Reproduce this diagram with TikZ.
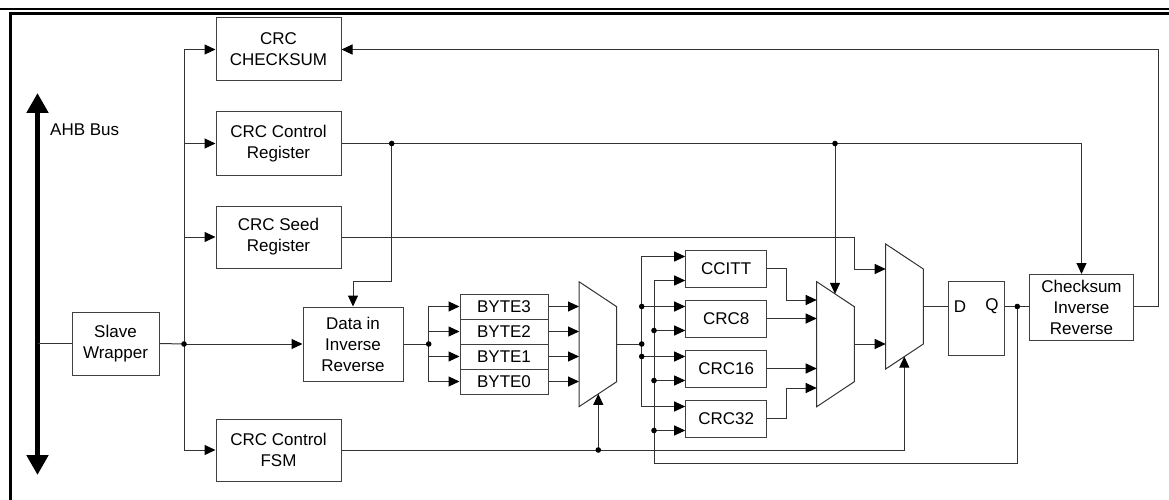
\documentclass[tikz,border=0pt]{standalone}
\usepackage{fontspec}
\setmainfont{Liberation Sans}
\usetikzlibrary{arrows.meta,calc}
\begin{document}
\begin{tikzpicture}[x=1pt,y=-1pt,
  every node/.style={font=\fontsize{17}{21}\selectfont},
  blk/.style={draw=black!75, line width=1pt, inner sep=0pt, align=center, minimum width=125pt, minimum height=63pt},
  wire/.style={draw=black!80, line width=1pt},
  arr/.style={wire, -{Triangle[length=11pt,width=10pt,color=black,fill=black]}},
  dotc/.style={fill=black},
]
\useasboundingbox (0,0) rectangle (1169,500);
\fill[white] (0,0) rectangle (1169,500);
% frame
\draw[line width=2pt] (0,9) -- (1169,9);
\draw[line width=3pt, line join=miter] (10.5,500) -- (10.5,13.5) -- (1169,13.5);

% bus
\coordinate (busT) at (37.5,93);
\coordinate (busB) at (37.5,475);
\coordinate (busJ) at (37.5,343.5);
\draw[line width=5pt, {Triangle[length=20pt,width=21pt]}-{Triangle[length=20pt,width=21pt]}] (busT) -- (busB);
\node[anchor=west, inner sep=0pt] (ahb) at (50,130) {AHB Bus};

% blocks
\node[blk] (chk) at (278.5,49.5) {CRC\\CHECKSUM};
\node[blk] (ctl) at (278.5,143.5) {CRC Control\\Register};
\node[blk, minimum height=62pt] (seed) at (278.5,237) {CRC Seed\\Register};
\node[blk, minimum height=62pt] (fsm) at (278.5,450) {CRC Control\\FSM};
\node[blk, minimum width=87pt] (slave) at (115.5,343.5) {Slave\\Wrapper};
\node[blk, minimum width=100pt, minimum height=74pt] (din) at (353,344) {Data in\\Inverse\\Reverse};
\node[blk, minimum width=88pt, minimum height=25pt] (b3) at (504,306.5) {BYTE3};
\node[blk, minimum width=88pt, minimum height=25pt] (b2) at (504,331.5) {BYTE2};
\node[blk, minimum width=88pt, minimum height=25pt] (b1) at (504,356.5) {BYTE1};
\node[blk, minimum width=88pt, minimum height=25pt] (b0) at (504,381.5) {BYTE0};
\node[blk, minimum width=81pt, minimum height=37pt] (ccitt) at (726.2,268.5) {CCITT};
\node[blk, minimum width=81pt, minimum height=37pt] (crc8) at (726.2,318.5) {CRC8};
\node[blk, minimum width=81pt, minimum height=37pt] (crc16) at (726.2,368.5) {CRC16};
\node[blk, minimum width=81pt, minimum height=37pt] (crc32) at (726.2,418.5) {CRC32};
\node[blk, minimum width=56pt, minimum height=74pt] (ff) at (976.3,318.8) {};
\node (D) at (960,306.5) {D};
\node (Q) at (992,306.5) {Q};
\node[blk, minimum width=104pt, minimum height=66pt] (cinv) at (1081.5,307.5) {Checksum\\Inverse\\Reverse};

% muxes
\draw[wire, line join=miter] (579,281.7) -- (616.7,306.7) -- (616.7,381.7) -- (579,406.7) -- cycle;
\draw[wire, line join=miter] (816.7,281.7) -- (854.3,306.7) -- (854.3,381.7) -- (816.7,406.7) -- cycle;
\draw[wire, line join=miter] (885.7,244) -- (923.3,269) -- (923.3,344) -- (885.7,369) -- cycle;
\coordinate (m1L) at (579,344);
\coordinate (m1o) at (616.7,344);
\coordinate (m1s) at (598.3,393.9);
\coordinate (m2o) at (854.3,344);
\coordinate (m2s) at (835,293.9);
\coordinate (m2a) at (816.7,300);
\coordinate (m2b) at (816.7,318.5);
\coordinate (m2c) at (816.7,368.5);
\coordinate (m2d) at (816.7,388);
\coordinate (m3a) at (885.7,269);
\coordinate (m3b) at (885.7,344);
\coordinate (m3o) at (923.3,306.5);
\coordinate (m3s) at (904.3,356.6);

% junction coordinates
\coordinate (j1) at (184,344);
\coordinate (j2) at (428.7,344);
\coordinate (j3) at (641.7,344);
\coordinate (d1) at (391.7,143.5);
\coordinate (d2) at (835,143.5);
\coordinate (k1) at (391.7,281.7);
\coordinate (qd) at (1017.3,306.5);
\coordinate (fb) at (654,463.3);
\coordinate (d3) at (m1s |- fsm.east);

\coordinate (c1a) at ($(ccitt.west)+(0,-12)$);
\coordinate (c1b) at ($(ccitt.west)+(0,12)$);
\coordinate (c2a) at ($(crc8.west)+(0,-12)$);
\coordinate (c2b) at ($(crc8.west)+(0,12)$);
\coordinate (c3a) at ($(crc16.west)+(0,-12)$);
\coordinate (c3b) at ($(crc16.west)+(0,12)$);
\coordinate (c4a) at ($(crc32.west)+(0,-12)$);
\coordinate (c4b) at ($(crc32.west)+(0,12)$);

% connectors left side
\draw[wire] (busJ) -- (slave.west);
\draw[wire] (slave.east) -- (j1);
\draw[arr] (j1) -- (din.west);
\draw[arr] (j1) |- (chk.west);
\draw[arr] (j1) |- (ctl.west);
\draw[arr] (j1) |- (seed.west);
\draw[arr] (j1) |- (fsm.west);

% control register line
\draw[arr] (ctl.east) -| (cinv.north);
\draw[arr] (d1) -- (k1) -- (k1 -| din.north) -- (din.north);
\draw[arr] (d2) -- (m2s);

% bytes
\draw[wire] (din.east) -- (j2);
\draw[arr] (j2) |- (b3.west);
\draw[arr] (j2) |- (b2.west);
\draw[arr] (j2) |- (b1.west);
\draw[arr] (j2) |- (b0.west);
\draw[arr] (b3.east) -- (b3.east -| m1L);
\draw[arr] (b2.east) -- (b2.east -| m1L);
\draw[arr] (b1.east) -- (b1.east -| m1L);
\draw[arr] (b0.east) -- (b0.east -| m1L);

% mux1 to CRC blocks
\draw[wire] (m1o) -- (j3);
\draw[arr] (j3) |- (c1a);
\draw[arr] (j3) |- (c4a);
\draw[arr] (c2a -| j3) -- (c2a);
\draw[arr] (c3a -| j3) -- (c3a);

% feedback
\draw[arr] (qd) |- (fb) |- (c1b);
\draw[arr] (c2b -| fb) -- (c2b);
\draw[arr] (c3b -| fb) -- (c3b);
\draw[arr] (c4b -| fb) -- (c4b);

% CRC outputs to mux2
\draw[arr] (ccitt.east) -- ++(19.5,0) |- (m2a);
\draw[arr] (crc8.east) -- (m2b);
\draw[arr] (crc16.east) -- (m2c);
\draw[arr] (crc32.east) -- ++(19.5,0) |- (m2d);

% mux3 inputs
\draw[arr] (m2o) -- (m3b);
\draw[arr] (seed.east) -- (seed.east -| m2o) |- (m3a);

% FSM selects
\draw[arr] (fsm.east) -| (m3s);
\draw[arr] (d3) -- (m1s);

% FF and checksum
\draw[wire] (m3o) -- (m3o -| ff.west);
\draw[wire] (m3o -| ff.east) -- (m3o -| cinv.west);
\draw[arr] (cinv.east |- qd) -- ++(24,0) |- (chk.east);

% dots
\foreach \p in {j1,j2,j3,d1,d2,d3,qd} \fill[dotc] (\p) circle (2.8);
\fill[dotc] (c2a -| j3) circle (2.8);
\fill[dotc] (c3a -| j3) circle (2.8);
\fill[dotc] (c2b -| fb) circle (2.8);
\fill[dotc] (c3b -| fb) circle (2.8);
\fill[dotc] (c4b -| fb) circle (2.8);
\end{tikzpicture}
\end{document}
